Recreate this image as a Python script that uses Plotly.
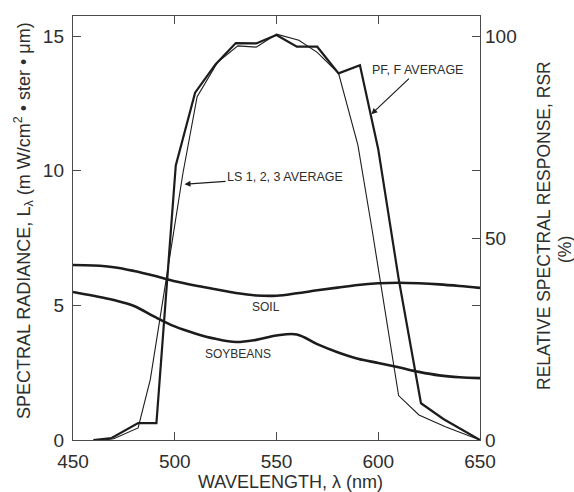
import plotly.graph_objects as go

# ---- data ----
wavelength = [450, 460, 470, 480, 490, 500, 510, 520, 530, 540, 550,
              560, 570, 580, 590, 600, 610, 620, 630, 640, 650]
soil = [6.50, 6.48, 6.42, 6.28, 6.10, 5.90, 5.74, 5.60, 5.46, 5.37, 5.36,
        5.45, 5.56, 5.66, 5.76, 5.82, 5.84, 5.82, 5.78, 5.72, 5.65]
soybeans = [5.50, 5.36, 5.20, 4.98, 4.58, 4.22, 3.96, 3.76, 3.64, 3.72, 3.88,
            3.92, 3.56, 3.26, 3.02, 2.86, 2.70, 2.53, 2.40, 2.33, 2.30]

wl_pf = [460, 469, 482, 491, 500.5, 510, 520, 530, 540, 550, 560, 570,
         580.5, 591, 600, 610, 621, 632, 650]
rsr_pf = [0, 0.5, 4.2, 4.2, 68, 86, 93, 98.3, 98.2, 100.3, 97.4, 97.4,
          90.8, 92.8, 72, 40, 9.1, 5.2, 0]

wl_ls = [465, 470, 482, 488, 499, 504, 511, 521, 531, 540, 550, 561, 570,
         580.5, 590, 597, 610, 620, 633, 650]
rsr_ls = [0, 0.3, 3, 15, 50, 66, 85, 93.5, 97.6, 97.3, 100.5, 99, 96,
          90.8, 73, 52, 11, 6.2, 3.3, 0]

x_ticks = [450, 500, 550, 600, 650]
y_ticks = [0, 5, 10, 15]
y2_ticks = [0, 50, 100]

INK = "#1c1c1c"
AXC = "#4a4a4a"
TXT = "#2e2e2e"
FONT = "Liberation Sans, Arial, sans-serif"

fig = go.Figure()
fig.add_trace(go.Scatter(x=wavelength, y=soil, mode="lines",
                         line=dict(color=INK, width=2.6, shape="spline", smoothing=1),
                         yaxis="y", showlegend=False))
fig.add_trace(go.Scatter(x=wavelength, y=soybeans, mode="lines",
                         line=dict(color=INK, width=2.6, shape="spline", smoothing=1),
                         yaxis="y", showlegend=False))
fig.add_trace(go.Scatter(x=wl_pf, y=rsr_pf, mode="lines",
                         line=dict(color=INK, width=2.2),
                         yaxis="y2", showlegend=False))
fig.add_trace(go.Scatter(x=wl_ls, y=rsr_ls, mode="lines",
                         line=dict(color=INK, width=1.1),
                         yaxis="y2", showlegend=False))

axis_common = dict(showgrid=False, zeroline=False, ticks="inside", ticklen=8,
                   tickwidth=1.3, tickcolor=AXC, linecolor=AXC, linewidth=1.4,
                   tickfont=dict(size=19, color=TXT, family=FONT))

fig.update_layout(
    width=574, height=492,
    margin=dict(l=73, r=94, t=16, b=52),
    paper_bgcolor="white", plot_bgcolor="white",
    font=dict(family=FONT, color=TXT),
    xaxis=dict(range=[450, 650], tickvals=x_ticks, showline=True, mirror="ticks",
               ticklabelstandoff=4, **axis_common),
    yaxis=dict(range=[0, 15.75], tickvals=y_ticks, showline=True, mirror="ticks",
               ticklabelstandoff=4, **axis_common),
    yaxis2=dict(range=[0, 105], tickvals=y2_ticks, overlaying="y", side="right",
                showline=False, ticklabelstandoff=4, **axis_common),
    annotations=[
        dict(text="WAVELENGTH, λ (nm)", xref="paper", yref="paper",
             x=(290 - 73) / 407, y=(440 - 482) / 424, xanchor="center", yanchor="middle",
             showarrow=False, font=dict(size=18, color=TXT)),
        dict(text="SPECTRAL RADIANCE, L<sub>λ</sub> (m W/cm<sup>2</sup> • ster • μm)",
             xref="paper", yref="paper", x=(23 - 73) / 407, y=(440 - 221) / 424,
             xanchor="center", yanchor="middle", textangle=-90,
             showarrow=False, font=dict(size=18, color=TXT)),
        dict(text="RELATIVE SPECTRAL RESPONSE, RSR", xref="paper", yref="paper",
             x=(544 - 73) / 407, y=(440 - 226) / 424, xanchor="center", yanchor="middle",
             textangle=-90, showarrow=False, font=dict(size=17.5, color=TXT)),
        dict(text="(%)", xref="paper", yref="paper",
             x=(565 - 73) / 407, y=(440 - 250) / 424, xanchor="center", yanchor="middle",
             textangle=-90, showarrow=False, font=dict(size=17.5, color=TXT)),
        dict(text="SOIL", xref="x", yref="y", x=545, y=4.95, showarrow=False,
             font=dict(size=12, color=TXT)),
        dict(text="SOYBEANS", xref="x", yref="y", x=531, y=3.2, showarrow=False,
             font=dict(size=12, color=TXT)),
        dict(text="LS 1, 2, 3 AVERAGE", xref="x", yref="y", x=504.8, y=9.5,
             axref="x", ayref="y", ax=554.2, ay=9.77, showarrow=True,
             arrowhead=2, arrowsize=1, arrowwidth=1.2, arrowcolor=INK,
             font=dict(size=12.5, color=TXT)),
        dict(text="PF, F AVERAGE", xref="x", yref="y", x=596.6, y=12.1,
             axref="x", ayref="y", ax=619.5, ay=13.74, showarrow=True,
             arrowhead=2, arrowsize=1, arrowwidth=1.2, arrowcolor=INK,
             font=dict(size=12.5, color=TXT)),
    ],
)

fig.write_html("out.html")
